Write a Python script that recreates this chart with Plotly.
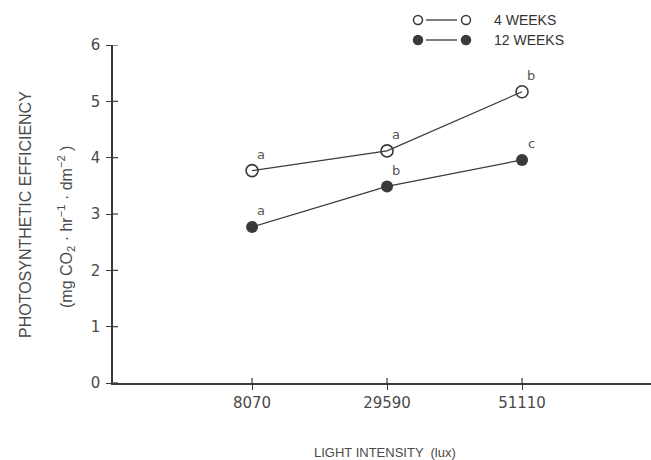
import plotly.graph_objects as go

# ---- data ----
light_intensity = ["8070", "29590", "51110"]
weeks4 = [3.77, 4.12, 5.17]
weeks12 = [2.77, 3.49, 3.96]
letters4 = ["a", "a", "b"]
letters12 = ["a", "b", "c"]
series_names = ["4 WEEKS", "12 WEEKS"]
y_ticks = [0, 1, 2, 3, 4, 5, 6]

W, H = 651, 460
ML, MR, MT, MB = 113, 0, 45, 77
PW, PH = W - ML - MR, H - MT - MB

def px(x):
    return (x - ML) / PW

def py(y):
    return (H - MB - y) / PH

xpos = list(range(1, len(light_intensity) + 1))
INK = "#3a3a3a"
TXT = "#4a4a4a"
FONT = "DejaVu Sans"
TL = 5

fig = go.Figure()
fig.add_trace(go.Scatter(
    x=xpos, y=weeks4, mode="lines+markers", name=series_names[0],
    line=dict(color=INK, width=1.2),
    marker=dict(symbol="circle-open", size=12, color=INK, line=dict(width=1.6, color=INK)),
    showlegend=False))
fig.add_trace(go.Scatter(
    x=xpos, y=weeks12, mode="lines+markers", name=series_names[1],
    line=dict(color=INK, width=1.2),
    marker=dict(symbol="circle", size=12, color=INK),
    showlegend=False))

ann = []
for xs, ys, ls in ((xpos, weeks4, letters4), (xpos, weeks12, letters12)):
    for x, y, l in zip(xs, ys, ls):
        ann.append(dict(x=x, y=y, text=l, showarrow=False, xshift=9, yshift=16,
                        font=dict(family=FONT, size=13, color="#555")))

# axis titles
ann.append(dict(xref="paper", yref="paper", x=px(25), y=py(215), text="PHOTOSYNTHETIC EFFICIENCY",
                textangle=-90, showarrow=False, xanchor="center", yanchor="middle",
                font=dict(family="Liberation Sans", size=16, color=TXT)))
ann.append(dict(xref="paper", yref="paper", x=px(66), y=py(227),
                text="(mg CO<sub>2</sub> · hr<sup>−1</sup> · dm<sup>−2</sup> )",
                textangle=-90, showarrow=False, xanchor="center", yanchor="middle",
                font=dict(family="Liberation Sans", size=16, color=TXT)))
ann.append(dict(xref="paper", yref="paper", x=px(385), y=py(452), text="LIGHT INTENSITY  (lux)",
                showarrow=False, xanchor="center", yanchor="middle",
                font=dict(family="Liberation Sans", size=13, color=TXT)))

shapes = []
# inner half of the crossing tick marks
for t in y_ticks:
    shapes.append(dict(type="line", xref="paper", yref="y", x0=0, x1=TL / PW, y0=t, y1=t,
                       line=dict(color=INK, width=1.2)))
for t in xpos:
    shapes.append(dict(type="line", xref="x", yref="paper", x0=t, x1=t, y0=0, y1=TL / PH,
                       line=dict(color=INK, width=1.2)))

# custom legend
for i, (name, filled) in enumerate(zip(series_names, [False, True])):
    yy = py(20 + 20 * i)
    shapes.append(dict(type="line", xref="paper", yref="paper", x0=px(426), x1=px(457), y0=yy, y1=yy,
                       line=dict(color=INK, width=1.3)))
    for cx in (418, 466):
        shapes.append(dict(type="circle", xref="paper", yref="paper", xsizemode="pixel", ysizemode="pixel",
                           xanchor=px(cx), yanchor=yy, x0=-4.5, x1=4.5, y0=-4.5, y1=4.5,
                           fillcolor=INK if filled else "white", line=dict(color=INK, width=1.5)))
    ann.append(dict(xref="paper", yref="paper", x=px(492), y=yy, text=name, showarrow=False,
                    xanchor="left", yanchor="middle",
                    font=dict(family="Liberation Sans", size=14, color="#333")))

xr = [-0.03, PW / 135 - 0.03]
tick_common = dict(showgrid=False, zeroline=False, tickcolor=INK, tickwidth=1.2, ticklen=TL)
fig.update_layout(
    width=W, height=H, margin=dict(l=ML, r=MR, t=MT, b=MB),
    paper_bgcolor="white", plot_bgcolor="white",
    annotations=ann, shapes=shapes,
    xaxis=dict(range=xr, tickvals=xpos, ticktext=light_intensity,
               showline=True, linecolor=INK, linewidth=1.5, ticks="outside",
               tickfont=dict(family=FONT, size=15, color=TXT), **tick_common),
    yaxis=dict(range=[0, 6], tickvals=y_ticks,
               showline=True, linecolor=INK, linewidth=1.5, ticks="outside", ticklabelstandoff=3,
               tickfont=dict(family=FONT, size=15, color=TXT), **tick_common),
    showlegend=False,
)

fig.write_html("out.html")
